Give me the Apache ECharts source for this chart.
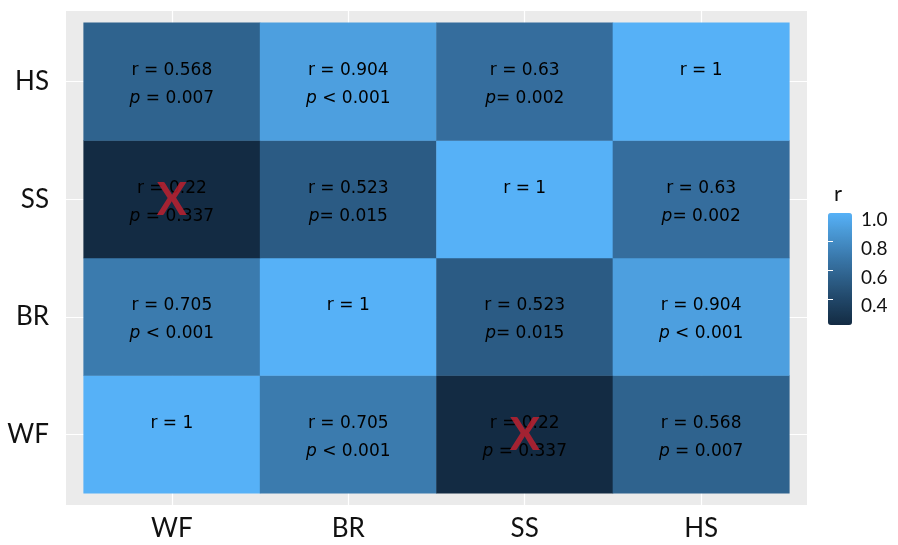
<!DOCTYPE html>
<html>
<head>
<meta charset="utf-8">
<script src="https://cdn.jsdelivr.net/npm/echarts@6/dist/echarts.min.js"></script>
<style>
html,body{margin:0;padding:0;background:#fff;}
#chart{width:898px;height:545px;}
</style>
</head>
<body>
<div id="chart"></div>
<script>
// ---------- data ----------
const categories = ['WF', 'BR', 'SS', 'HS'];          // x left->right, y bottom->top
// r values: rows = y category (WF..HS, bottom to top), cols = x category (WF..HS)
const rWF = [1, 0.705, 0.22, 0.568];
const rBR = [0.705, 1, 0.523, 0.904];
const rSS = [0.22, 0.523, 1, 0.63];
const rHS = [0.568, 0.904, 0.63, 1];
// p-value text (after the italic p); '' on the diagonal
const pTextWF = ['', ' < 0.001', ' = 0.337', ' = 0.007'];
const pTextBR = [' < 0.001', '', '= 0.015', ' < 0.001'];
const pTextSS = [' = 0.337', '= 0.015', '', '= 0.002'];
const pTextHS = [' = 0.007', ' < 0.001', '= 0.002', ''];
// numeric p-values (null on diagonal)
const pWF = [null, 0.001, 0.337, 0.007];
const pBR = [0.001, null, 0.015, 0.001];
const pSS = [0.337, 0.015, null, 0.002];
const pHS = [0.007, 0.001, 0.002, null];
const legendTicks = [0.4, 0.6, 0.8, 1.0];
const rMin = 0.22, rMax = 1.0;

const rRows = [rWF, rBR, rSS, rHS];
const pTextRows = [pTextWF, pTextBR, pTextSS, pTextHS];
const pRows = [pWF, pBR, pSS, pHS];

// ---------- Lab colour ramp (ggplot default gradient) ----------
function hex2rgb(h){h=h.replace('#','');return [0,2,4].map(i=>parseInt(h.substr(i,2),16));}
function toLin(c){c/=255;return c<=0.04045?c/12.92:Math.pow((c+0.055)/1.055,2.4);}
function fromLin(c){c=c<=0.0031308?12.92*c:1.055*Math.pow(c,1/2.4)-0.055;return Math.max(0,Math.min(255,Math.round(c*255)));}
const Wn=[0.95047,1,1.08883];
function rgb2lab(rgb){const [r,g,b]=rgb.map(toLin);
 const X=(0.4124564*r+0.3575761*g+0.1804375*b)/Wn[0],Y=(0.2126729*r+0.7151522*g+0.0721750*b)/Wn[1],Z=(0.0193339*r+0.1191920*g+0.9503041*b)/Wn[2];
 const f=t=>t>0.008856?Math.cbrt(t):7.787*t+16/116;const fx=f(X),fy=f(Y),fz=f(Z);
 return [116*fy-16,500*(fx-fy),200*(fy-fz)];}
function lab2hex(lab){const fy=(lab[0]+16)/116,fx=fy+lab[1]/500,fz=fy-lab[2]/200;
 const fi=t=>t*t*t>0.008856?t*t*t:(t-16/116)/7.787;const X=fi(fx)*Wn[0],Y=fi(fy)*Wn[1],Z=fi(fz)*Wn[2];
 const r=3.2404542*X-1.5371385*Y-0.4985314*Z,g=-0.9692660*X+1.8760108*Y+0.0415560*Z,b=0.0556434*X-0.2040259*Y+1.0572252*Z;
 return '#'+[r,g,b].map(fromLin).map(v=>v.toString(16).padStart(2,'0')).join('');}
const lowLab=rgb2lab(hex2rgb('#132B43')),highLab=rgb2lab(hex2rgb('#56B1F7'));
const ramp=[];for(let i=0;i<=12;i++){const t=i/12;ramp.push(lab2hex(lowLab.map((v,k)=>v+(highLab[k]-v)*t)));}

// ---------- build series data ----------
const heatData=[];const crossData=[];
rRows.forEach((row,yi)=>row.forEach((v,xi)=>{
  heatData.push([xi,yi,v]);
  const p=pRows[yi][xi];
  if(p!==null && p>0.05) crossData.push([xi,yi]);
}));

// ---------- layout ----------
const P={left:66,top:11,width:741,height:494};
const ex=0.1/4.2, span=4/4.2;
const G1={left:P.left+P.width*ex,top:P.top+P.height*ex,width:P.width*span,height:P.height*span};

const axisFont={fontFamily:'Lato',fontSize:26,color:'#111'};
const chart=echarts.init(document.getElementById('chart'));
chart.setOption({
  animation:false,
  backgroundColor:'#ffffff',
  title:{text:'r',left:834,top:183,padding:0,textStyle:{fontFamily:'Lato',fontSize:22,fontWeight:'normal',color:'#111'}},
  grid:[
    {left:P.left,top:P.top,width:P.width,height:P.height,show:true,backgroundColor:'#EBEBEB',borderWidth:0},
    {left:G1.left,top:G1.top,width:G1.width,height:G1.height,show:false},
    {left:828,top:213,width:24,height:112,show:false}
  ],
  xAxis:[
    {gridIndex:0,type:'value',min:-0.6,max:3.6,axisLine:{show:false},
     axisTick:{show:true,customValues:[0,1,2,3],length:4,lineStyle:{color:'#333',width:1}},
     axisLabel:{customValues:[0,1,2,3],formatter:v=>categories[Math.round(v)],margin:11,...axisFont},
     splitLine:{show:true,lineStyle:{color:'#fff',width:1.2}}},
    {gridIndex:1,type:'category',data:categories,show:false},
    {gridIndex:2,type:'value',min:0,max:1,show:false}
  ],
  yAxis:[
    {gridIndex:0,type:'value',min:-0.6,max:3.6,axisLine:{show:false},
     axisTick:{show:true,customValues:[0,1,2,3],length:4,lineStyle:{color:'#333',width:1}},
     axisLabel:{customValues:[0,1,2,3],formatter:v=>categories[Math.round(v)],margin:17,...axisFont},
     splitLine:{show:true,lineStyle:{color:'#fff',width:1.2}}},
    {gridIndex:1,type:'category',data:categories,show:false},
    {gridIndex:2,type:'value',min:rMin,max:rMax,position:'right',axisLine:{show:false},
     axisTick:{show:true,inside:true,customValues:legendTicks.slice(0,3),length:5,lineStyle:{color:'#fff',width:1}},
     axisLabel:{customValues:legendTicks,formatter:v=>v.toFixed(1),margin:9,fontFamily:'Lato',fontSize:19,color:'#111',verticalAlign:'top',lineHeight:14},
     splitLine:{show:false},z:10},
    {gridIndex:2,type:'value',min:rMin,max:rMax,position:'left',axisLine:{show:false},
     axisTick:{show:true,inside:true,customValues:legendTicks.slice(0,3),length:5,lineStyle:{color:'#fff',width:1}},
     axisLabel:{show:false},splitLine:{show:false},z:10}
  ],
  visualMap:{type:'continuous',min:rMin,max:rMax,seriesIndex:0,calculable:false,hoverLink:false,
    left:828,top:213,itemWidth:24,itemHeight:112,padding:0,text:null,showLabel:false,
    inRange:{color:ramp}},
  series:[
    {type:'heatmap',xAxisIndex:1,yAxisIndex:1,data:heatData,
     itemStyle:{borderWidth:0},
     label:{show:true,color:'#000',offset:[0,3],
       formatter:pr=>{const xi=pr.data[0],yi=pr.data[1];const pt=pTextRows[yi][xi];
         const l1='{t|r = '+String(pr.data[2])+'}';
         const l2=pt===''?'{t| }':'{i|p}{t|'+pt+'}';
         return l1+'\n'+l2;},
       rich:{t:{fontFamily:'DejaVu Sans',fontSize:17,lineHeight:28,color:'#000'},
             i:{fontFamily:'DejaVu Sans',fontSize:17,fontStyle:'italic',lineHeight:28,color:'#000'}}},
     emphasis:{disabled:true}},
    {type:'scatter',xAxisIndex:1,yAxisIndex:1,data:crossData,z:10,symbolSize:1,
     itemStyle:{color:'rgba(0,0,0,0)'},
     label:{show:true,position:'inside',offset:[0,1],formatter:'X',fontFamily:'Lato',fontWeight:'bold',fontSize:45,color:'#C8202E'},
     emphasis:{disabled:true}}
  ]
});
</script>
</body>
</html>
